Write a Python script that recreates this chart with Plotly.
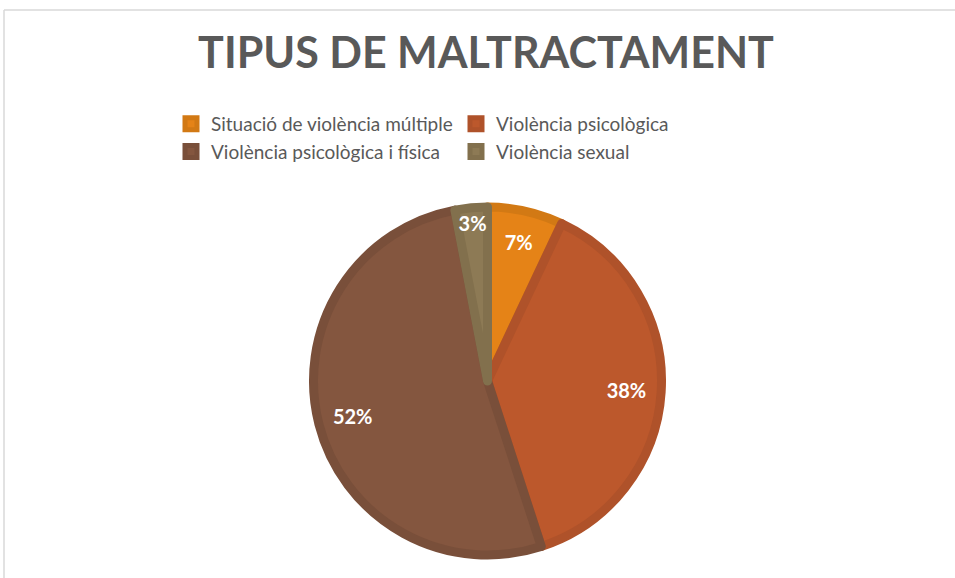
import plotly.graph_objects as go

labels = ["Situació de violència múltiple", "Violència psicològica",
          "Violència psicològica i física", "Violència sexual"]
values = [7, 38, 52, 3]
fill_colors = ["#E58317", "#BC582C", "#84563F", "#8D7A55"]
line_colors = ["#D27914", "#AF522A", "#794F3A", "#82704D"]

W, H = 955, 578
L, R, T, B = 208, 188, 207, 23
pw, ph = W - L - R, H - T - B

def px_x(x):
    return (x - L) / pw

def px_y(y):
    return (H - B - y) / ph

pie_common = dict(labels=labels, values=values, sort=False,
                  direction="clockwise", rotation=0)

fig = go.Figure()
fig.add_trace(go.Pie(
    **pie_common,
    marker=dict(colors=fill_colors, line=dict(color=line_colors, width=9)),
    textinfo="none",
    hoverinfo="label+percent",
))
# label ring: same data, transparent, so percentages sit toward the rim
fig.add_trace(go.Pie(
    **pie_common,
    hole=0.6,
    marker=dict(colors=["rgba(0,0,0,0)"] * len(values), line=dict(width=0)),
    texttemplate="%{percent:.0%}",
    textposition="inside",
    insidetextorientation="horizontal",
    textfont=dict(family="Lato", size=20, color="white", weight="bold"),
    showlegend=False,
    hoverinfo="skip",
))

fig.update_layout(
    width=W, height=H,
    margin=dict(l=L, r=R, t=T, b=B),
    paper_bgcolor="white",
    plot_bgcolor="white",
    uniformtext=dict(minsize=20, mode="show"),
    title=dict(text="<b>TIPUS DE MALTRACTAMENT</b>", x=486 / W, xanchor="center",
               y=1 - 53 / H, yanchor="middle",
               font=dict(family="Lato", size=43, color="#595959")),
    legend=dict(orientation="h", x=px_x(171), xanchor="left",
                y=px_y(105), yanchor="top",
                entrywidth=240, entrywidthmode="pixels",
                font=dict(family="Lato", size=19, color="#595959"),
                itemclick=False),
    shapes=[
        dict(type="line", xref="paper", yref="paper",
             x0=px_x(4), x1=px_x(W + 10), y0=px_y(10), y1=px_y(10),
             line=dict(color="#D9D9D9", width=1.5)),
        dict(type="line", xref="paper", yref="paper",
             x0=px_x(4), x1=px_x(4), y0=px_y(10), y1=px_y(H + 10),
             line=dict(color="#D9D9D9", width=1.5)),
    ],
)

fig.write_html("out.html", config={"displayModeBar": False},
               post_script="document.body.style.margin='0';")
